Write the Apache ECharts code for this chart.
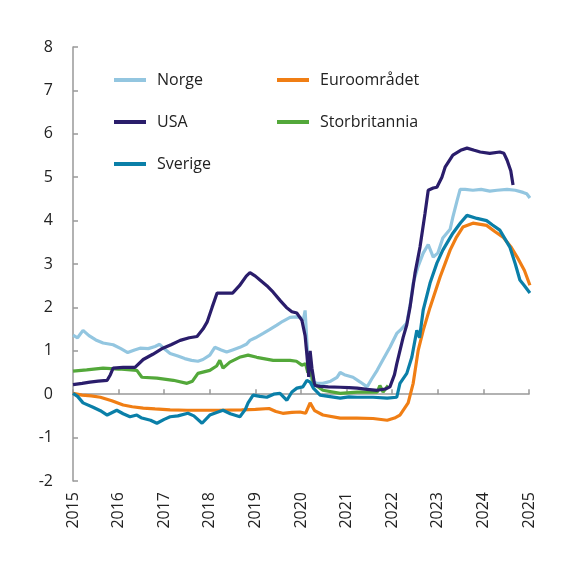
<!DOCTYPE html>
<html>
<head>
<meta charset="utf-8">
<script src="https://cdn.jsdelivr.net/npm/echarts@6/dist/echarts.min.js"></script>
<style>html,body{margin:0;padding:0;background:#fff}#c{width:576px;height:568px}</style>
</head>
<body>
<div id="c"></div>
<script>
const yearTicks = [2015,2016,2017,2018,2019,2020,2021,2022,2023,2024,2025];
const norge = [[2015.0,1.36],[2015.1,1.3],[2015.22,1.47],[2015.35,1.35],[2015.5,1.25],[2015.66,1.18],[2015.88,1.14],[2016.05,1.05],[2016.2,0.96],[2016.35,1.02],[2016.47,1.06],[2016.65,1.05],[2016.8,1.1],[2016.9,1.15],[2017.0,1.05],[2017.13,0.94],[2017.3,0.88],[2017.45,0.82],[2017.6,0.78],[2017.74,0.76],[2017.85,0.8],[2018.0,0.9],[2018.11,1.08],[2018.25,1.02],[2018.37,0.97],[2018.5,1.02],[2018.66,1.08],[2018.8,1.15],[2018.88,1.24],[2019.0,1.3],[2019.17,1.4],[2019.3,1.48],[2019.47,1.59],[2019.6,1.68],[2019.76,1.77],[2019.9,1.78],[2019.98,1.77],[2020.05,1.7],[2020.09,1.93],[2020.13,1.2],[2020.18,0.5],[2020.25,0.3],[2020.35,0.25],[2020.48,0.25],[2020.65,0.3],[2020.79,0.39],[2020.86,0.5],[2020.95,0.45],[2021.14,0.39],[2021.3,0.28],[2021.45,0.17],[2021.55,0.35],[2021.67,0.55],[2021.8,0.8],[2021.95,1.08],[2022.1,1.4],[2022.2,1.5],[2022.32,1.64],[2022.4,2.1],[2022.46,2.56],[2022.57,2.95],[2022.68,3.25],[2022.79,3.45],[2022.9,3.16],[2023.0,3.25],[2023.11,3.6],[2023.27,3.8],[2023.33,4.08],[2023.42,4.45],[2023.49,4.72],[2023.6,4.72],[2023.77,4.7],[2023.95,4.72],[2024.14,4.68],[2024.3,4.7],[2024.52,4.72],[2024.7,4.7],[2024.87,4.65],[2024.95,4.62],[2025.02,4.52]];
const usa = [[2015.0,0.22],[2015.2,0.25],[2015.37,0.28],[2015.55,0.3],[2015.75,0.32],[2015.82,0.45],[2015.88,0.6],[2016.1,0.62],[2016.36,0.62],[2016.54,0.8],[2016.75,0.92],[2016.97,1.06],[2017.15,1.14],[2017.35,1.24],[2017.55,1.3],[2017.72,1.33],[2017.85,1.5],[2017.94,1.66],[2018.05,2.0],[2018.16,2.33],[2018.3,2.33],[2018.5,2.33],[2018.65,2.5],[2018.8,2.72],[2018.88,2.8],[2019.0,2.72],[2019.1,2.63],[2019.25,2.5],[2019.39,2.35],[2019.55,2.15],[2019.68,2.0],[2019.8,1.9],[2019.91,1.87],[2020.02,1.7],[2020.09,1.35],[2020.13,0.9],[2020.17,0.4],[2020.2,1.0],[2020.24,0.6],[2020.3,0.2],[2020.42,0.18],[2020.6,0.17],[2020.86,0.16],[2021.05,0.15],[2021.23,0.14],[2021.45,0.11],[2021.67,0.09],[2021.85,0.12],[2021.95,0.17],[2022.05,0.45],[2022.1,0.7],[2022.24,1.31],[2022.32,1.6],[2022.39,2.0],[2022.5,2.79],[2022.61,3.39],[2022.72,4.17],[2022.79,4.7],[2022.9,4.75],[2022.98,4.77],[2023.09,5.0],[2023.16,5.23],[2023.33,5.51],[2023.5,5.62],[2023.64,5.67],[2023.8,5.62],[2023.93,5.58],[2024.14,5.55],[2024.36,5.58],[2024.45,5.55],[2024.52,5.39],[2024.6,5.15],[2024.65,4.82]];
const sverige = [[2015.0,0.02],[2015.1,-0.05],[2015.22,-0.2],[2015.44,-0.3],[2015.6,-0.38],[2015.75,-0.48],[2015.96,-0.37],[2016.1,-0.45],[2016.25,-0.52],[2016.4,-0.48],[2016.51,-0.55],[2016.7,-0.6],[2016.84,-0.67],[2017.0,-0.58],[2017.13,-0.52],[2017.3,-0.5],[2017.52,-0.44],[2017.65,-0.5],[2017.83,-0.67],[2018.0,-0.48],[2018.15,-0.42],[2018.29,-0.37],[2018.45,-0.45],[2018.66,-0.52],[2018.78,-0.35],[2018.84,-0.2],[2018.95,-0.02],[2019.1,-0.05],[2019.25,-0.07],[2019.4,0.0],[2019.54,0.02],[2019.69,-0.14],[2019.8,0.05],[2019.91,0.14],[2020.04,0.17],[2020.13,0.32],[2020.2,0.28],[2020.27,0.14],[2020.42,-0.02],[2020.6,-0.05],[2020.86,-0.09],[2021.05,-0.06],[2021.23,-0.07],[2021.58,-0.07],[2021.89,-0.09],[2022.1,-0.07],[2022.17,0.25],[2022.32,0.48],[2022.43,0.85],[2022.54,1.47],[2022.6,1.3],[2022.68,1.94],[2022.83,2.56],[2022.98,3.02],[2023.11,3.32],[2023.33,3.71],[2023.5,3.95],[2023.64,4.12],[2023.86,4.05],[2024.07,4.0],[2024.2,3.9],[2024.36,3.78],[2024.58,3.39],[2024.7,3.0],[2024.8,2.63],[2024.9,2.5],[2025.02,2.33]];
const euro = [[2015.0,0.02],[2015.2,-0.02],[2015.4,-0.04],[2015.6,-0.07],[2015.85,-0.15],[2016.1,-0.25],[2016.3,-0.29],[2016.54,-0.32],[2016.8,-0.34],[2017.13,-0.36],[2017.5,-0.37],[2017.74,-0.37],[2018.2,-0.37],[2018.7,-0.36],[2019.0,-0.35],[2019.3,-0.33],[2019.45,-0.4],[2019.6,-0.44],[2019.8,-0.42],[2019.98,-0.41],[2020.1,-0.44],[2020.2,-0.2],[2020.3,-0.38],[2020.48,-0.48],[2020.86,-0.55],[2021.23,-0.55],[2021.58,-0.56],[2021.89,-0.6],[2022.05,-0.55],[2022.17,-0.48],[2022.35,-0.2],[2022.46,0.25],[2022.57,1.01],[2022.68,1.47],[2022.83,2.0],[2023.05,2.7],[2023.27,3.32],[2023.4,3.6],[2023.55,3.85],[2023.77,3.94],[2024.07,3.89],[2024.25,3.75],[2024.43,3.62],[2024.6,3.4],[2024.74,3.16],[2024.9,2.85],[2025.02,2.51]];
const storbritannia = [[2015.0,0.53],[2015.3,0.56],[2015.66,0.6],[2016.0,0.58],[2016.4,0.55],[2016.51,0.39],[2016.84,0.37],[2017.2,0.32],[2017.5,0.25],[2017.62,0.3],[2017.74,0.48],[2018.0,0.55],[2018.15,0.65],[2018.22,0.78],[2018.29,0.6],[2018.44,0.74],[2018.65,0.85],[2018.84,0.9],[2019.03,0.85],[2019.39,0.78],[2019.76,0.78],[2019.9,0.76],[2020.02,0.67],[2020.1,0.7],[2020.15,0.5],[2020.2,0.6],[2020.27,0.25],[2020.48,0.09],[2020.86,0.02],[2021.23,0.05],[2021.67,0.05],[2021.73,0.2],[2021.8,0.05],[2021.91,0.2]];

const names = ['Norge','USA','Sverige','Euroområdet','Storbritannia'];
const colors = ['#93c6e0','#2a1d6b','#0a7fa8','#f07e14','#53a83a'];
const seriesData = [norge, usa, sverige, euro, storbritannia];

const font = 'Open Sans';
const chart = echarts.init(document.getElementById('c'), null, {renderer:'canvas'});
const legendBase = {orient: 'vertical', top: 64, itemWidth: 32, itemHeight: 4, itemGap: 20, icon: 'rect',
  textStyle: {fontFamily: font, fontSize: 16, color: '#222', padding: [0,0,0,6], lineHeight: 22}};
chart.setOption({
  animation: false,
  backgroundColor: '#fff',
  grid: {left: 73, right: 47, top: 47, bottom: 87},
  legend: [
    Object.assign({}, legendBase, {data: names.slice(0,3), left: 109}),
    Object.assign({}, legendBase, {data: names.slice(3), left: 272})
  ],
  xAxis: [
    {type: 'value', min: 2015, max: 2025, interval: 1, position: 'bottom',
     axisLine: {show: false, onZero: false}, axisTick: {show: false}, splitLine: {show: false},
     axisLabel: {rotate: 90, margin: 11, fontFamily: font, fontSize: 16, color: '#222', formatter: v => String(v)}},
    {type: 'value', min: 2015, max: 2025, interval: 1, position: 'bottom',
     axisLine: {show: true, onZero: true, onZeroAxisIndex: 0, lineStyle: {color: '#999', width: 1.5}},
     axisTick: {show: true, inside: true, length: 5, lineStyle: {color: '#999', width: 1.5}},
     axisLabel: {show: false}, splitLine: {show: false}}
  ],
  yAxis: {type: 'value', min: -2, max: 8, interval: 1,
    axisLine: {show: true, onZero: false, lineStyle: {color: '#999', width: 1.5}},
    axisTick: {show: true, inside: true, length: 5, lineStyle: {color: '#999', width: 1.5}},
    splitLine: {show: false},
    axisLabel: {margin: 20, fontFamily: font, fontSize: 16, color: '#222'}},
  series: names.map((n, i) => ({
    name: n, type: 'line', data: seriesData[i], showSymbol: false, symbol: 'none',
    xAxisIndex: 0, color: colors[i],
    lineStyle: {width: 3.2, color: colors[i]}, z: [1,3,4,2,2][i]
  }))
});
</script>
</body>
</html>
